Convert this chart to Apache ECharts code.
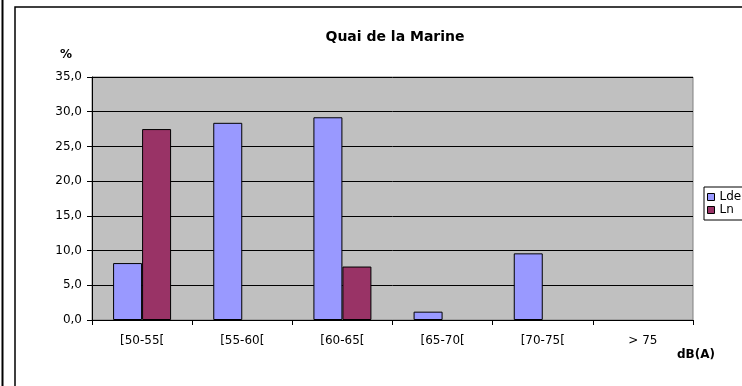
<!DOCTYPE html>
<html>
<head>
<meta charset="utf-8">
<script src="https://cdn.jsdelivr.net/npm/echarts@6/dist/echarts.min.js"></script>
<style>
  html, body { margin: 0; padding: 0; background: #fff; }
  #chart { width: 742px; height: 386px; }
</style>
</head>
<body>
<div id="chart"></div>
<script>
// Noise level distribution, Quai de la Marine
const categories = ['[50-55[', '[55-60[', '[60-65[', '[65-70[', '[70-75[', '> 75'];
const ldenValues = [8.2, 28.4, 29.2, 1.2, 9.6, 0];
const lnValues = [27.5, 0, 7.7, 0, 0, 0];
const seriesNames = ['Lden', 'Ln'];
const yTicks = { min: 0, max: 35, step: 5 };

const FONT = '"DejaVu Sans", sans-serif';
const chart = echarts.init(document.getElementById('chart'), null, { renderer: 'canvas' });

// empty classes get no outline
const asBars = values => values.map(v => ({
  value: v,
  itemStyle: { borderWidth: v === 0 ? 0 : 1 }
}));

chart.setOption({
  backgroundColor: '#ffffff',
  animation: false,
  title: {
    text: 'Quai de la Marine',
    left: 390,
    top: 25,
    textAlign: 'center',
    textStyle: { fontFamily: FONT, fontSize: 14, fontWeight: 'bold', color: '#000' }
  },
  legend: {
    orient: 'vertical',
    left: 704,
    top: 187,
    itemWidth: 7,
    itemHeight: 7,
    itemGap: 1,
    padding: [4, 40, 4, 3],
    backgroundColor: '#fff',
    borderColor: '#000',
    borderWidth: 1,
    borderRadius: 0,
    icon: 'rect',
    textStyle: { fontFamily: FONT, fontSize: 12, color: '#000' },
    data: seriesNames.map(n => ({ name: n, itemStyle: { borderColor: '#000', borderWidth: 1 } }))
  },
  grid: {
    left: 92, right: 49, top: 77, bottom: 66,
    show: true,
    backgroundColor: '#c0c0c0',
    borderColor: '#808080',
    borderWidth: 1
  },
  xAxis: {
    type: 'category',
    data: categories,
    name: 'dB(A)',
    nameLocation: 'end',
    nameGap: 3,
    nameTextStyle: { fontFamily: FONT, fontSize: 12, fontWeight: 'bold', color: '#000',
      align: 'center', verticalAlign: 'top', padding: [29, 0, 0, 0] },
    axisLine: { lineStyle: { color: '#000', width: 1 } },
    axisTick: { show: true, alignWithLabel: false, length: 5, lineStyle: { color: '#000' } },
    axisLabel: { fontFamily: FONT, fontSize: 12, color: '#000', margin: 15 }
  },
  yAxis: {
    type: 'value',
    min: yTicks.min,
    max: yTicks.max,
    interval: yTicks.step,
    name: '%',
    nameLocation: 'end',
    nameGap: 16,
    nameTextStyle: { fontFamily: FONT, fontSize: 12, fontWeight: 'bold', color: '#000',
      align: 'right', padding: [0, 20, 0, 0] },
    axisLine: { show: true, lineStyle: { color: '#000', width: 1 } },
    axisTick: { show: true, length: 5, lineStyle: { color: '#000' } },
    axisLabel: {
      fontFamily: FONT, fontSize: 12, color: '#000', margin: 10,
      formatter: v => v.toFixed(1).replace('.', ',')
    },
    splitLine: { show: true, lineStyle: { color: '#000', width: 1 } }
  },
  series: [
    {
      name: seriesNames[0],
      type: 'bar',
      data: asBars(ldenValues),
      barWidth: 29,
      barGap: '0%',
      itemStyle: { color: '#9999ff', borderColor: '#000', borderWidth: 1 }
    },
    {
      name: seriesNames[1],
      type: 'bar',
      data: asBars(lnValues),
      barWidth: 29,
      barGap: '0%',
      itemStyle: { color: '#993366', borderColor: '#000', borderWidth: 1 }
    }
  ],
  graphic: [
    // page frame line at the far left
    { type: 'line', shape: { x1: 2.5, y1: 0, x2: 2.5, y2: 386 },
      style: { stroke: '#000', lineWidth: 2 }, z: 10 },
    // chart area border
    { type: 'rect', shape: { x: 15, y: 7, width: 740, height: 390 },
      style: { fill: 'none', stroke: '#000', lineWidth: 1.5 }, z: -1, silent: true }
  ]
});
</script>
</body>
</html>
